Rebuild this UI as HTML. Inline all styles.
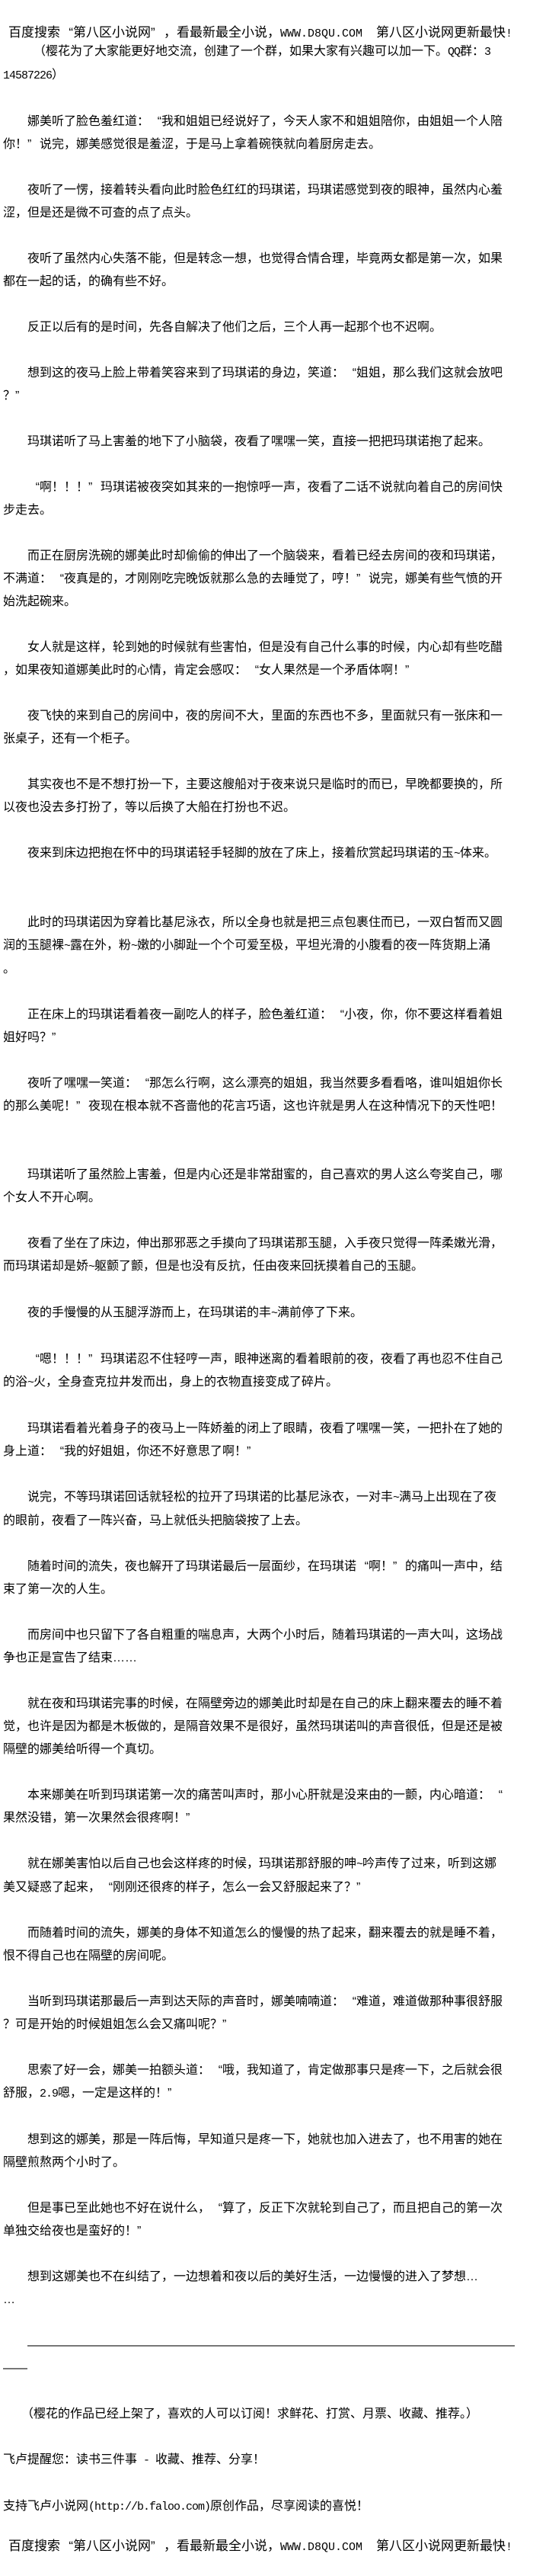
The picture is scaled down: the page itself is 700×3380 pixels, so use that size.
<!DOCTYPE html>
<html>
<head>
<meta charset="utf-8">
<style>
html,body{margin:0;padding:0;background:#fff;}
body{width:700px;height:3380px;position:relative;overflow:hidden;color:#000;font-family:"Liberation Sans","Noto Sans CJK SC",sans-serif;}
.t{position:absolute;left:4px;top:53px;font-size:16px;line-height:30px;white-space:nowrap;}
.h{position:absolute;left:11px;font-size:17px;line-height:30px;white-space:nowrap;}
.m{font-family:"Liberation Mono",monospace;font-size:15px;letter-spacing:-1px;white-space:pre;}
.h .m{letter-spacing:0;}
i{font-style:normal;}
i.a{display:inline-block;width:1em;text-align:right;}
i.b{display:inline-block;width:1em;text-align:left;}
.sp{display:inline-block;width:40px;}
</style>
</head>
<body>
<div class="h" style="top:28px;">百度搜索<i class="a">“</i>第八区小说网<i class="b">”</i>，看最新最全小说，<span class="m">WWW.D8QU.COM  </span>第八区小说网更新最快<span class="m">!</span></div>

<div class="t">
<span class="sp"></span>（樱花为了大家能更好地交流，创建了一个群，如果大家有兴趣可以加一下。<span class="m">QQ</span>群：<span class="m">3</span><br>
<span class="m">14587226</span>）<br>
<br>
　　娜美听了脸色羞红道：<i class="a">“</i>我和姐姐已经说好了，今天人家不和姐姐陪你，由姐姐一个人陪<br>
你！<i class="b">”</i>说完，娜美感觉很是羞涩，于是马上拿着碗筷就向着厨房走去。<br>
<br>
　　夜听了一愣，接着转头看向此时脸色红红的玛琪诺，玛琪诺感觉到夜的眼神，虽然内心羞<br>
涩，但是还是微不可查的点了点头。<br>
<br>
　　夜听了虽然内心失落不能，但是转念一想，也觉得合情合理，毕竟两女都是第一次，如果<br>
都在一起的话，的确有些不好。<br>
<br>
　　反正以后有的是时间，先各自解决了他们之后，三个人再一起那个也不迟啊。<br>
<br>
　　想到这的夜马上脸上带着笑容来到了玛琪诺的身边，笑道：<i class="a">“</i>姐姐，那么我们这就会放吧<br>
？<i class="b">”</i><br>
<br>
　　玛琪诺听了马上害羞的地下了小脑袋，夜看了嘿嘿一笑，直接一把把玛琪诺抱了起来。<br>
<br>
　　<i class="a">“</i>啊！！！<i class="b">”</i>玛琪诺被夜突如其来的一抱惊呼一声，夜看了二话不说就向着自己的房间快<br>
步走去。<br>
<br>
　　而正在厨房洗碗的娜美此时却偷偷的伸出了一个脑袋来，看着已经去房间的夜和玛琪诺，<br>
不满道：<i class="a">“</i>夜真是的，才刚刚吃完晚饭就那么急的去睡觉了，哼！<i class="b">”</i>说完，娜美有些气愤的开<br>
始洗起碗来。<br>
<br>
　　女人就是这样，轮到她的时候就有些害怕，但是没有自己什么事的时候，内心却有些吃醋<br>
，如果夜知道娜美此时的心情，肯定会感叹：<i class="a">“</i>女人果然是一个矛盾体啊！<i class="b">”</i><br>
<br>
　　夜飞快的来到自己的房间中，夜的房间不大，里面的东西也不多，里面就只有一张床和一<br>
张桌子，还有一个柜子。<br>
<br>
　　其实夜也不是不想打扮一下，主要这艘船对于夜来说只是临时的而已，早晚都要换的，所<br>
以夜也没去多打扮了，等以后换了大船在打扮也不迟。<br>
<br>
　　夜来到床边把抱在怀中的玛琪诺轻手轻脚的放在了床上，接着欣赏起玛琪诺的玉<span class="m">~</span>体来。<br>
<br>
<br>
　　此时的玛琪诺因为穿着比基尼泳衣，所以全身也就是把三点包裹住而已，一双白皙而又圆<br>
润的玉腿裸<span class="m">~</span>露在外，粉<span class="m">~</span>嫩的小脚趾一个个可爱至极，平坦光滑的小腹看的夜一阵货期上涌<br>
。<br>
<br>
　　正在床上的玛琪诺看着夜一副吃人的样子，脸色羞红道：<i class="a">“</i>小夜，你，你不要这样看着姐<br>
姐好吗？<i class="b">”</i><br>
<br>
　　夜听了嘿嘿一笑道：<i class="a">“</i>那怎么行啊，这么漂亮的姐姐，我当然要多看看咯，谁叫姐姐你长<br>
的那么美呢！<i class="b">”</i>夜现在根本就不吝啬他的花言巧语，这也许就是男人在这种情况下的天性吧！<br>
<br>
<br>
　　玛琪诺听了虽然脸上害羞，但是内心还是非常甜蜜的，自己喜欢的男人这么夸奖自己，哪<br>
个女人不开心啊。<br>
<br>
　　夜看了坐在了床边，伸出那邪恶之手摸向了玛琪诺那玉腿，入手夜只觉得一阵柔嫩光滑，<br>
而玛琪诺却是娇<span class="m">~</span>躯颤了颤，但是也没有反抗，任由夜来回抚摸着自己的玉腿。<br>
<br>
　　夜的手慢慢的从玉腿浮游而上，在玛琪诺的丰<span class="m">~</span>满前停了下来。<br>
<br>
　　<i class="a">“</i>嗯！！！<i class="b">”</i>玛琪诺忍不住轻哼一声，眼神迷离的看着眼前的夜，夜看了再也忍不住自己<br>
的浴<span class="m">~</span>火，全身查克拉井发而出，身上的衣物直接变成了碎片。<br>
<br>
　　玛琪诺看着光着身子的夜马上一阵娇羞的闭上了眼睛，夜看了嘿嘿一笑，一把扑在了她的<br>
身上道：<i class="a">“</i>我的好姐姐，你还不好意思了啊！<i class="b">”</i><br>
<br>
　　说完，不等玛琪诺回话就轻松的拉开了玛琪诺的比基尼泳衣，一对丰<span class="m">~</span>满马上出现在了夜<br>
的眼前，夜看了一阵兴奋，马上就低头把脑袋按了上去。<br>
<br>
　　随着时间的流失，夜也解开了玛琪诺最后一层面纱，在玛琪诺<i class="a">“</i>啊！<i class="b">”</i>的痛叫一声中，结<br>
束了第一次的人生。<br>
<br>
　　而房间中也只留下了各自粗重的喘息声，大两个小时后，随着玛琪诺的一声大叫，这场战<br>
争也正是宣告了结束……<br>
<br>
　　就在夜和玛琪诺完事的时候，在隔壁旁边的娜美此时却是在自己的床上翻来覆去的睡不着<br>
觉，也许是因为都是木板做的，是隔音效果不是很好，虽然玛琪诺叫的声音很低，但是还是被<br>
隔壁的娜美给听得一个真切。<br>
<br>
　　本来娜美在听到玛琪诺第一次的痛苦叫声时，那小心肝就是没来由的一颤，内心暗道：<i class="a">“</i><br>
果然没错，第一次果然会很疼啊！<i class="b">”</i><br>
<br>
　　就在娜美害怕以后自己也会这样疼的时候，玛琪诺那舒服的呻<span class="m">~</span>吟声传了过来，听到这娜<br>
美又疑惑了起来，<i class="a">“</i>刚刚还很疼的样子，怎么一会又舒服起来了？<i class="b">”</i><br>
<br>
　　而随着时间的流失，娜美的身体不知道怎么的慢慢的热了起来，翻来覆去的就是睡不着，<br>
恨不得自己也在隔壁的房间呢。<br>
<br>
　　当听到玛琪诺那最后一声到达天际的声音时，娜美喃喃道：<i class="a">“</i>难道，难道做那种事很舒服<br>
？可是开始的时候姐姐怎么会又痛叫呢？<i class="b">”</i><br>
<br>
　　思索了好一会，娜美一拍额头道：<i class="a">“</i>哦，我知道了，肯定做那事只是疼一下，之后就会很<br>
舒服，<span class="m">2.9</span>嗯，一定是这样的！<i class="b">”</i><br>
<br>
　　想到这的娜美，那是一阵后悔，早知道只是疼一下，她就也加入进去了，也不用害的她在<br>
隔壁煎熬两个小时了。<br>
<br>
　　但是事已至此她也不好在说什么，<i class="a">“</i>算了，反正下次就轮到自己了，而且把自己的第一次<br>
单独交给夜也是蛮好的！<i class="b">”</i><br>
<br>
　　想到这娜美也不在纠结了，一边想着和夜以后的美好生活，一边慢慢的进入了梦想…<br>
…<br>
<br>
　　————————————————————————————————————————<br>
——<br>
<br>
　　（樱花的作品已经上架了，喜欢的人可以订阅！求鲜花、打赏、月票、收藏、推荐。）<br>
<br>
飞卢提醒您：读书三件事<span class="m"> - </span>收藏、推荐、分享！<br>
<br>
支持飞卢小说网<span class="m">(http://b.faloo.com)</span>原创作品，尽享阅读的喜悦！<br>
</div>

<div class="h" style="top:3326px;">百度搜索<i class="a">“</i>第八区小说网<i class="b">”</i>，看最新最全小说，<span class="m">WWW.D8QU.COM  </span>第八区小说网更新最快<span class="m">!</span></div>
</body>
</html>
